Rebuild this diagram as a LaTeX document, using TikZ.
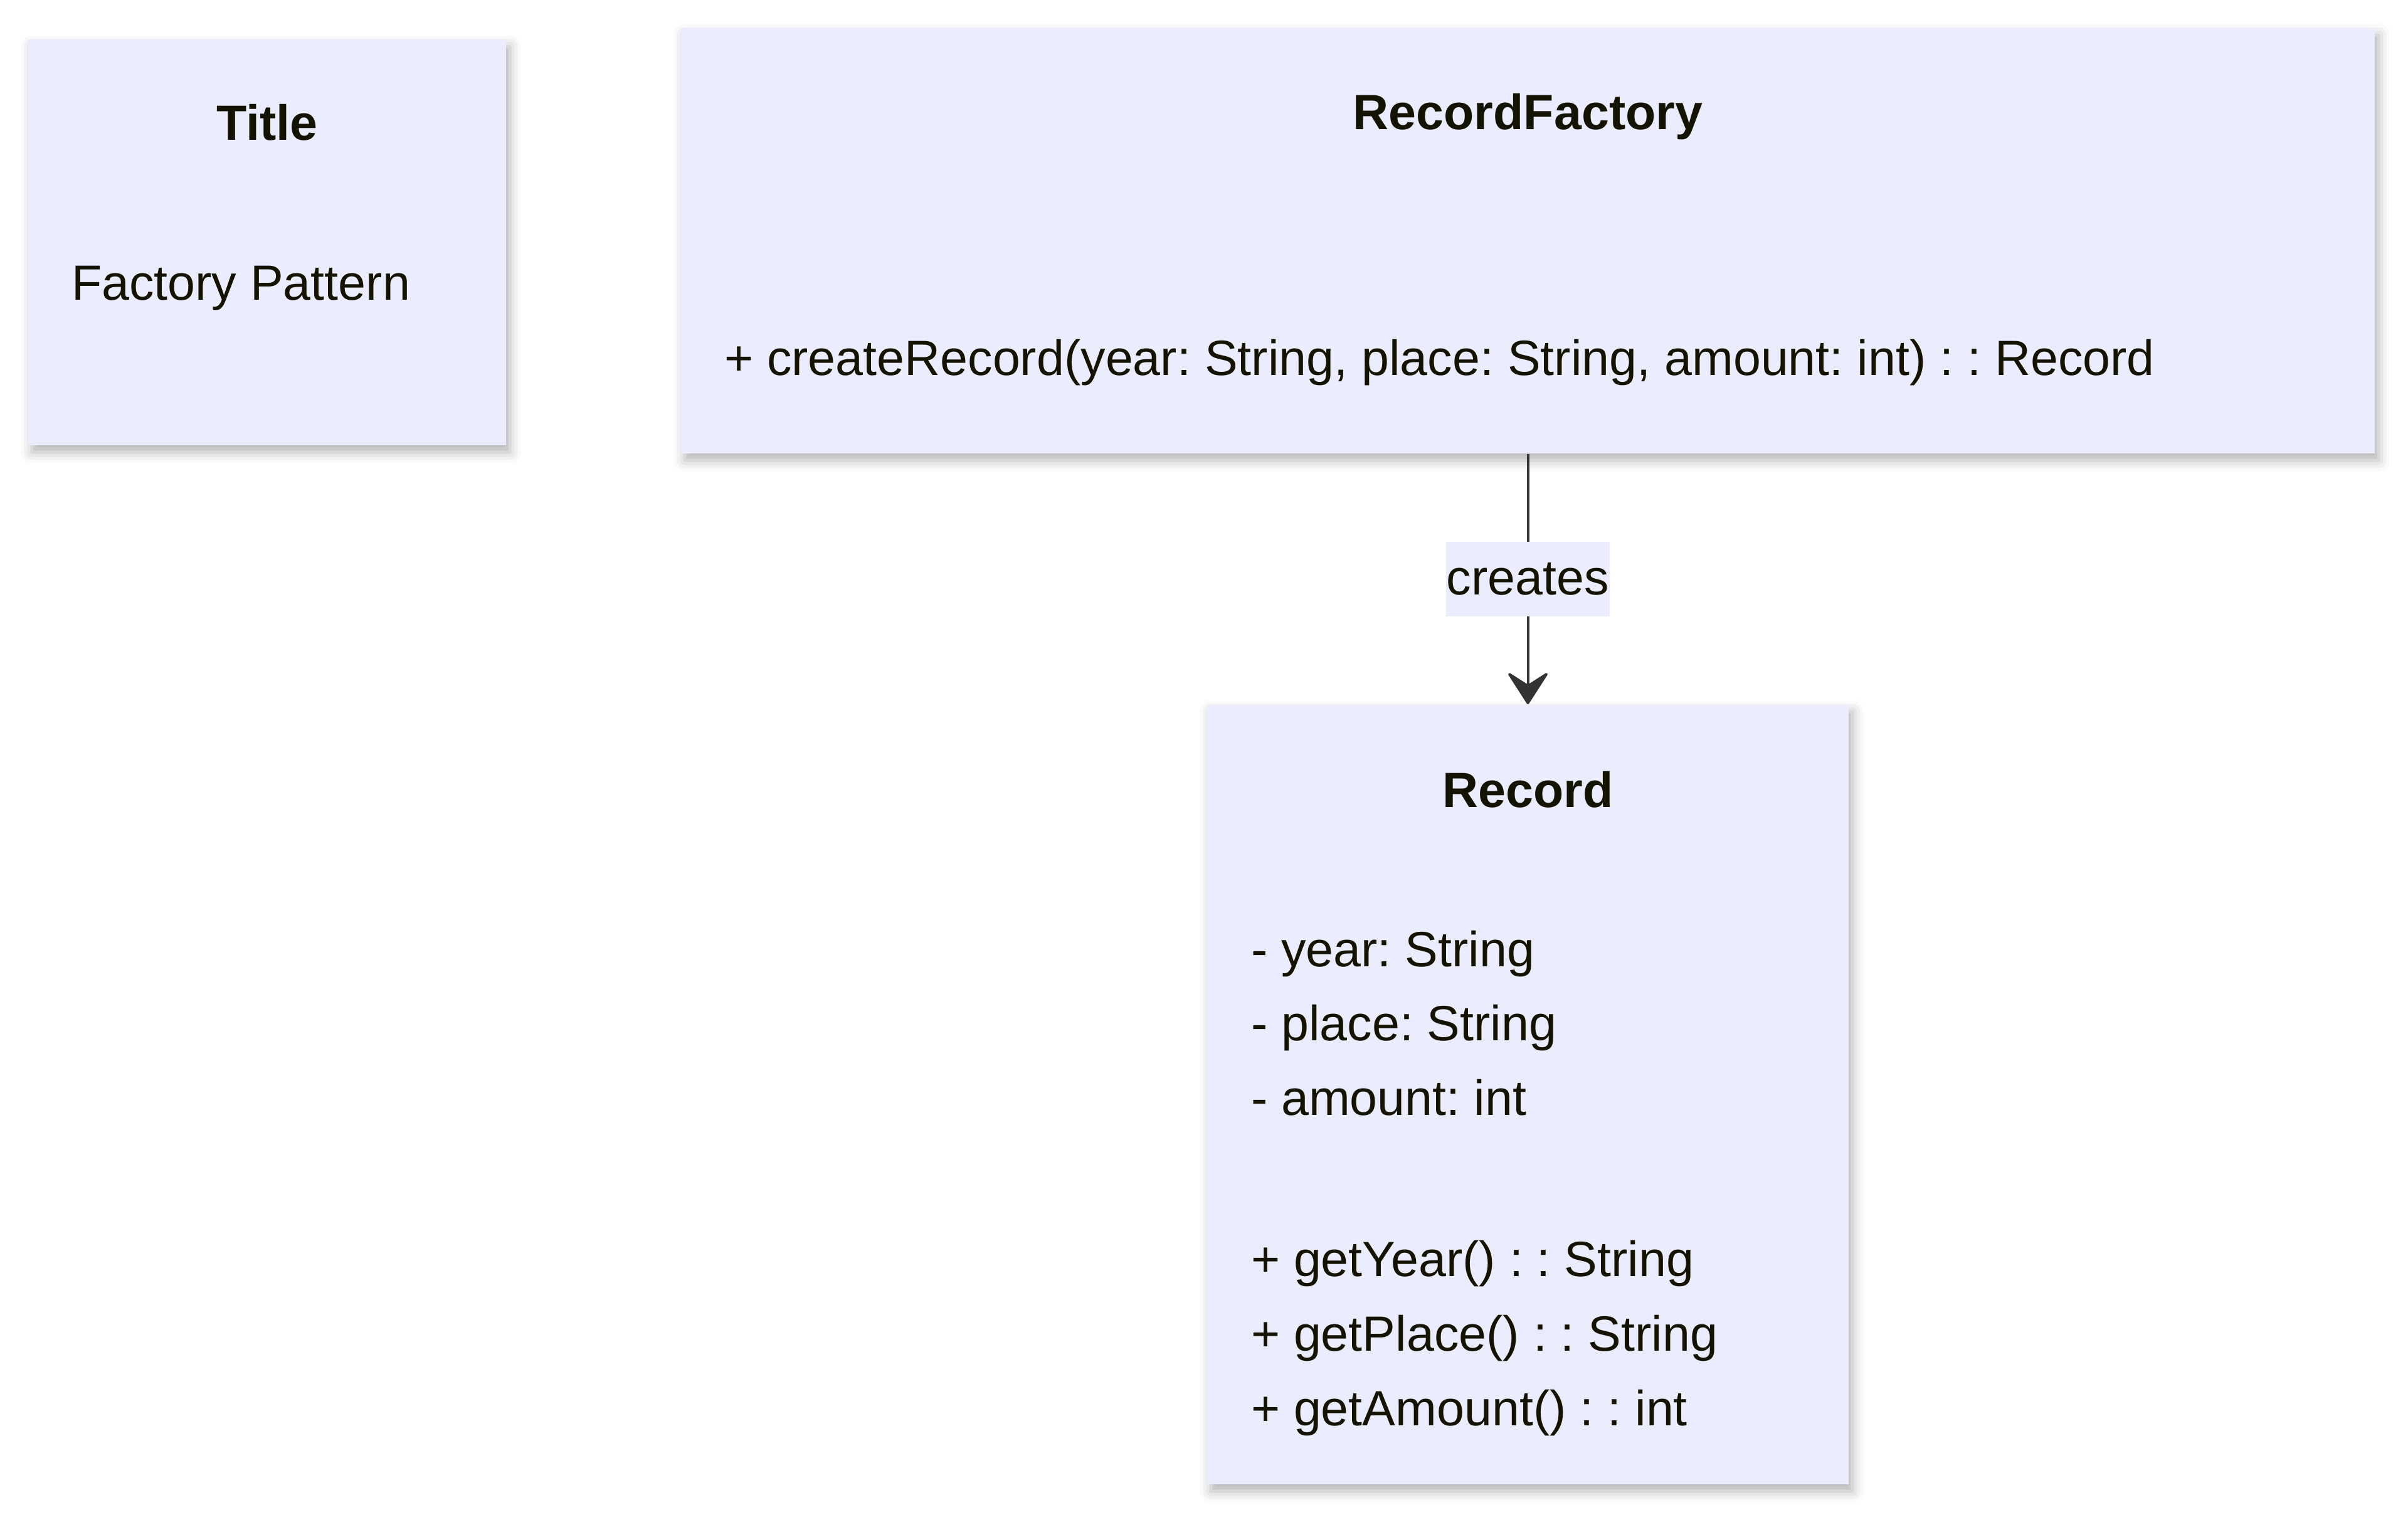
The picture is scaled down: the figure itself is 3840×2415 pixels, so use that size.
\documentclass[tikz,border=0pt]{standalone}
\usepackage{fontspec}
\setmainfont{Liberation Sans}
\usetikzlibrary{arrows.meta}
\usetikzlibrary{shadows.blur}
\frenchspacing

\definecolor{boxfill}{RGB}{236,236,255}
\definecolor{inktext}{RGB}{19,19,0}
\definecolor{inkline}{RGB}{51,51,51}

\tikzset{
  classbox/.style={draw=none, fill=boxfill, inner sep=0pt,
    blur shadow={shadow xshift=1.2pt, shadow yshift=-2.2pt, shadow blur radius=3.5pt, shadow opacity=30}},
  classtext/.style={inner sep=0pt, text=inktext, font=\fontsize{15.8}{19}\selectfont},
  classhead/.style={classtext, font=\fontsize{15.8}{19}\selectfont\bfseries},
  relline/.style={draw=inkline, line width=0.8pt, -{Stealth[length=11.2pt, width=14.4pt, inset=4.6pt, round]}},
  rellabel/.style={fill=boxfill, inner sep=0pt, minimum width=52.2pt, minimum height=23.8pt, text=inktext, font=\fontsize{15.8}{19}\selectfont}
}

\begin{document}
\begin{tikzpicture}[x=0.2pt,y=0.2pt,yscale=-1,xscale=1]
\useasboundingbox (0,0) rectangle (3840,2415);

%Shape: Rectangle [Title]
\node [classbox, minimum width=152.4pt, minimum height=129.4pt] (titlebox) at (426,386.5) {};
%Shape: Rectangle [RecordFactory]
\node [classbox, minimum width=540.2pt, minimum height=135.6pt] (factory) at (2436.5,384) {};
%Shape: Rectangle [Record]
\node [classbox, minimum width=204.6pt, minimum height=248.6pt] (record) at (2436.5,1745.5) {};

%Straight Lines [creates]
\draw [relline] (factory.south) -- node [rellabel] (createslbl) {creates} (record.north);

% Text Node
\node [classhead, anchor=base] (titlehead) at (426,223) {Title};
% Text Node
\node [classtext, anchor=base west] (titlebody) at (113,478) {Factory Pattern};
% Text Node
\node [classhead, anchor=base] (factoryhead) at (2436.5,206) {RecordFactory};
% Text Node
\node [classtext, anchor=base west] (factoryop) at (1154,598) {+ createRecord(year: String, place: String, amount: int) : : Record};
% Text Node
\node [classhead, anchor=base] (recordhead) at (2436.5,1287) {Record};
% Text Node
\node [classtext, anchor=base west] (fieldyear) at (1994,1541) {- year: String};
\node [classtext, anchor=base west] (fieldplace) at (1994,1659) {- place: String};
\node [classtext, anchor=base west] (fieldamount) at (1994,1778) {- amount: int};
% Text Node
\node [classtext, anchor=base west] (getyear) at (1994,2035) {+ getYear() : : String};
\node [classtext, anchor=base west] (getplace) at (1994,2154) {+ getPlace() : : String};
\node [classtext, anchor=base west] (getamount) at (1994,2273) {+ getAmount() : : int};

\end{tikzpicture}
\end{document}
